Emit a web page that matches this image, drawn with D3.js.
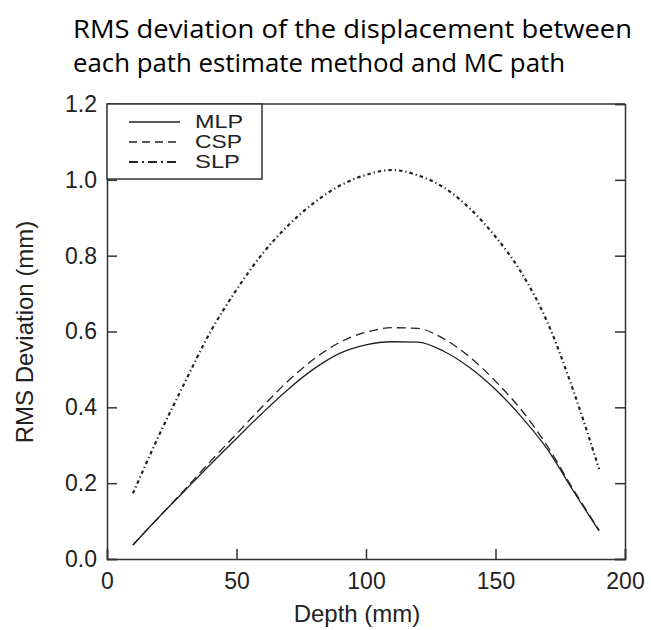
<!DOCTYPE html>
<html>
<head>
<meta charset="utf-8">
<script src="https://cdn.jsdelivr.net/npm/d3@7"></script>
<style>
  body { margin: 0; background: #fff; }
  svg { display: block; }
</style>
</head>
<body>
<div id="chart"></div>
<script>
'use strict';

// depth (mm) of each sample
var depths = [10, 20, 30, 40, 50, 60, 70, 80, 90, 100, 110, 120, 130, 140, 150, 160, 170, 180, 190];

// RMS deviation (mm) per method
var mlp = [0.037, 0.11, 0.18, 0.25, 0.318, 0.385, 0.448, 0.502, 0.543, 0.565, 0.573, 0.572, 0.548, 0.505, 0.447, 0.375, 0.29, 0.18, 0.074];
var csp = [0.037, 0.11, 0.183, 0.258, 0.33, 0.402, 0.47, 0.528, 0.572, 0.598, 0.610, 0.608, 0.581, 0.533, 0.469, 0.393, 0.298, 0.184, 0.076];
var slp = [0.173, 0.325, 0.465, 0.6, 0.71, 0.805, 0.88, 0.94, 0.985, 1.013, 1.026, 1.012, 0.98, 0.925, 0.85, 0.755, 0.625, 0.445, 0.237];

var seriesNames = ['MLP', 'CSP', 'SLP'];
var xTicks = [0, 50, 100, 150, 200];
var yTicks = [0, 0.2, 0.4, 0.6, 0.8, 1.0, 1.2];

var titleLines = ['RMS deviation of the displacement between', 'each path estimate method and MC path'];

var width = 651, height = 630;
var margin = {top: 104, right: 26, bottom: 71, left: 107};

var svg = d3.select('#chart').append('svg')
    .attr('width', width)
    .attr('height', height);

var x = d3.scaleLinear().domain([0, 200]).range([margin.left, width - margin.right]);
var y = d3.scaleLinear().domain([0, 1.2]).range([height - margin.bottom, margin.top]);

// title
svg.append('g')
  .selectAll('text')
    .data(titleLines)
  .enter().append('text')
    .attr('x', 73)
    .attr('y', function(d, i) { return 38 + i * 34; })
    .attr('textLength', function(d, i) { return i === 0 ? 559 : 492; })
    .attr('lengthAdjust', 'spacingAndGlyphs')
    .style('font', '25px "Open Sans", sans-serif')
    .style('fill', '#000')
    .text(function(d) { return d; });

// axes, ticks pointing inward
var axisColor = '#333';
var tickFont = '23px "Liberation Sans", Arial, sans-serif';

var gx = svg.append('g')
    .attr('transform', 'translate(0,' + y(0) + ')')
    .call(d3.axisBottom(x).tickValues(xTicks).tickSize(-10).tickPadding(14).tickFormat(d3.format('d')));

var gy = svg.append('g')
    .attr('transform', 'translate(' + x(0) + ',0)')
    .call(d3.axisLeft(y).tickValues(yTicks).tickSize(-10).tickPadding(10).tickFormat(d3.format('.1f')));

var gr = svg.append('g')
    .attr('transform', 'translate(' + x(200) + ',0)')
    .call(d3.axisRight(y).tickValues(yTicks).tickSize(-10).tickFormat(''));

[gx, gy, gr].forEach(function(g) {
    g.select('.domain').attr('stroke', axisColor).attr('stroke-width', 1.5);
    g.selectAll('.tick line').attr('stroke', axisColor).attr('stroke-width', 1.5);
    g.selectAll('.tick text').style('font', tickFont).attr('fill', '#222');
});

// top frame line
svg.append('line')
    .attr('x1', x(0)).attr('x2', x(200))
    .attr('y1', y(1.2)).attr('y2', y(1.2))
    .attr('stroke', axisColor)
    .attr('stroke-width', 1.5);

// axis titles
svg.append('text')
    .attr('x', 357)
    .attr('y', 622)
    .attr('text-anchor', 'middle')
    .style('font', '24px "Liberation Sans", Arial, sans-serif')
    .style('fill', '#222')
    .text('Depth (mm)');

svg.append('text')
    .attr('transform', 'translate(33,332) rotate(-90)')
    .attr('text-anchor', 'middle')
    .style('font', '24px "Liberation Sans", Arial, sans-serif')
    .style('fill', '#222')
    .text('RMS Deviation (mm)');

// lines
var styles = {
    MLP: {dash: null, width: 1.3},
    CSP: {dash: '9,5', width: 1.3},
    SLP: {dash: '3.5,3,1.2,3', width: 2.2}
};
var values = {MLP: mlp, CSP: csp, SLP: slp};

var line = d3.line()
    .x(function(d) { return x(d[0]); })
    .y(function(d) { return y(d[1]); })
    .curve(d3.curveMonotoneX);

seriesNames.forEach(function(name) {
    var pts = depths.map(function(d, i) { return [d, values[name][i]]; });
    svg.append('path')
        .datum(pts)
        .attr('d', line)
        .attr('fill', 'none')
        .attr('stroke', '#222')
        .attr('stroke-width', styles[name].width)
        .attr('stroke-dasharray', styles[name].dash);
});

// legend box in upper left
var legend = svg.append('g');
legend.append('rect')
    .attr('x', x(0)).attr('y', y(1.2))
    .attr('width', 262 - x(0)).attr('height', 179 - y(1.2))
    .attr('fill', '#fff')
    .attr('stroke', axisColor)
    .attr('stroke-width', 1.5);

var labelWidths = {MLP: 48, CSP: 47, SLP: 45};

var rows = legend.selectAll('g.row')
    .data(seriesNames)
  .enter().append('g')
    .attr('class', 'row')
    .attr('transform', function(d, i) { return 'translate(0,' + (122 + i * 20) + ')'; });

rows.append('line')
    .attr('x1', 129).attr('x2', 180)
    .attr('stroke', '#222')
    .attr('stroke-width', function(d) { return d === 'SLP' ? 2 : 1.3; })
    .attr('stroke-dasharray', function(d) { return d === 'CSP' ? '8,5' : (d === 'SLP' ? '9,4,2,4' : null); });

rows.append('text')
    .attr('x', 195)
    .attr('dy', '0.36em')
    .attr('textLength', function(d) { return labelWidths[d]; })
    .attr('lengthAdjust', 'spacingAndGlyphs')
    .style('font', '18px "Liberation Sans", Arial, sans-serif')
    .style('fill', '#222')
    .text(function(d) { return d; });
</script>
</body>
</html>
